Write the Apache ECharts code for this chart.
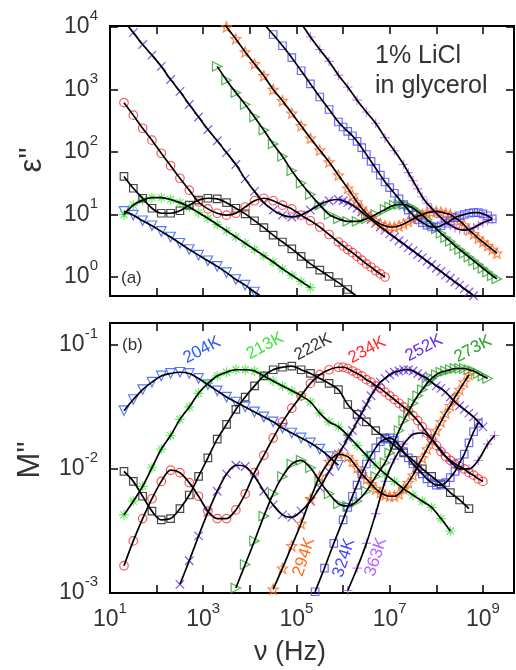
<!DOCTYPE html>
<html><head><meta charset="utf-8">
<script src="https://cdn.jsdelivr.net/npm/echarts@6/dist/echarts.min.js"></script>
<style>html,body{margin:0;padding:0;background:#fff}#c{width:516px;height:670px}</style>
</head><body><div id="c"></div>
<script>
// ---- data: log10(frequency / Hz) and log10 of the measured quantity ----
// panel (a): epsilon''
const nuE204 = [1.3,1.5,1.7,1.9,2.1,2.3,2.5,2.7,2.9,3.1,3.3,3.5,3.7,3.9,4.1,4.3];
const lgE204 = [1.05,0.99,0.9,0.82,0.73,0.64,0.54,0.44,0.35,0.26,0.17,0.07,-0.04,-0.13,-0.24,-0.34];
const nuE213 = [1.3,1.5,1.7,1.9,2.1,2.3,2.5,2.7,2.9,3.1,3.3,3.5,3.7,3.9,4.1,4.3,4.5,4.7,4.9,5.1,5.3];
const lgE213 = [1.0,1.15,1.23,1.27,1.27,1.24,1.19,1.12,1.03,0.94,0.84,0.74,0.64,0.54,0.44,0.34,0.24,0.13,0.03,-0.07,-0.17];
const nuE222 = [1.3,1.5,1.7,1.9,2.1,2.3,2.5,2.7,2.9,3.1,3.3,3.5,3.7,3.9,4.1,4.3,4.5,4.7,4.9,5.1,5.3,5.5,5.7,5.9,6.1,6.3];
const lgE222 = [1.61,1.42,1.26,1.1,1.02,1.02,1.06,1.15,1.23,1.26,1.25,1.19,1.1,1.01,0.9,0.79,0.67,0.56,0.45,0.33,0.21,0.11,0.01,-0.09,-0.2,-0.31];
const nuE234 = [1.3,1.5,1.7,1.9,2.1,2.3,2.5,2.7,2.9,3.1,3.3,3.5,3.7,3.9,4.1,4.3,4.5,4.7,4.9,5.1,5.3,5.5,5.7,5.9,6.0,6.1,6.2,6.3,6.4,6.5,6.6,6.7,6.8,6.9];
const lgE234 = [2.79,2.59,2.38,2.19,1.98,1.78,1.58,1.39,1.2,1.09,1.02,0.99,1.02,1.12,1.22,1.26,1.22,1.15,1.09,0.99,0.9,0.8,0.68,0.56,0.5,0.44,0.39,0.33,0.27,0.21,0.16,0.1,0.05,0.0];
const nuE252 = [1.3,1.5,1.7,1.9,2.1,2.3,2.5,2.7,2.9,3.1,3.3,3.5,3.7,3.9,4.1,4.3,4.5,4.7,4.9,5.1,5.3,5.5,5.7,5.9,6.0,6.1,6.2,6.3,6.4,6.5,6.6,6.7,6.8,6.9,7.0,7.1,7.2,7.3,7.4,7.5,7.6,7.7,7.8,7.9,8.0,8.1,8.2,8.3,8.4,8.5,8.6,8.7,8.8,8.9];
const lgE252 = [4.1,3.91,3.72,3.55,3.37,3.16,2.97,2.76,2.56,2.36,2.18,1.99,1.8,1.57,1.37,1.19,1.07,0.99,0.96,0.99,1.07,1.16,1.22,1.24,1.22,1.19,1.15,1.1,1.04,0.98,0.92,0.86,0.8,0.75,0.69,0.64,0.58,0.53,0.47,0.42,0.36,0.31,0.25,0.2,0.14,0.09,0.03,-0.02,-0.08,-0.13,-0.19,-0.24,-0.3,-0.35];
const nuE273 = [3.3,3.5,3.7,3.9,4.1,4.3,4.5,4.7,4.9,5.1,5.3,5.5,5.7,5.9,6.1,6.3,6.5,6.7,6.9,7.0,7.1,7.2,7.3,7.4,7.5,7.6,7.7,7.8,7.9,8.0,8.1,8.2,8.3,8.4,8.5,8.6,8.7,8.8,8.9,9.0,9.1,9.2,9.3];
const lgE273 = [3.37,3.15,2.95,2.76,2.56,2.35,2.13,1.93,1.7,1.5,1.32,1.15,1.0,0.93,0.89,0.89,0.93,1.0,1.08,1.12,1.15,1.16,1.16,1.14,1.1,1.05,0.99,0.92,0.85,0.77,0.7,0.63,0.57,0.5,0.44,0.38,0.32,0.26,0.2,0.14,0.08,0.02,-0.03];
const nuE294 = [3.3,3.5,3.7,3.9,4.1,4.3,4.5,4.7,4.9,5.1,5.3,5.5,5.7,5.9,6.1,6.2,6.3,6.4,6.5,6.6,6.7,6.8,6.9,7.0,7.1,7.2,7.3,7.4,7.5,7.6,7.7,7.8,7.9,8.0,8.1,8.2,8.3,8.4,8.5,8.6,8.7,8.8,8.9,9.0,9.1,9.2,9.3];
const lgE294 = [4.2,4.0,3.81,3.6,3.41,3.22,3.0,2.82,2.62,2.42,2.22,2.03,1.84,1.63,1.42,1.31,1.2,1.1,1.02,0.95,0.89,0.85,0.82,0.8,0.8,0.82,0.85,0.89,0.93,0.97,1.0,1.03,1.04,1.05,1.04,1.02,1.0,0.95,0.9,0.83,0.75,0.69,0.62,0.56,0.5,0.44,0.38];
const nuE324 = [4.1,4.3,4.5,4.7,4.9,5.1,5.3,5.5,5.7,5.9,6.0,6.1,6.2,6.3,6.4,6.5,6.6,6.7,6.8,6.9,7.0,7.1,7.2,7.3,7.4,7.5,7.6,7.7,7.8,7.9,8.0,8.1,8.2,8.3,8.4,8.5,8.6,8.7,8.8,8.9,9.0,9.1,9.2];
const lgE324 = [4.22,4.05,3.88,3.7,3.51,3.3,3.09,2.88,2.68,2.48,2.4,2.33,2.26,2.17,2.07,1.96,1.85,1.74,1.63,1.52,1.43,1.34,1.25,1.16,1.07,0.99,0.92,0.87,0.83,0.8,0.8,0.82,0.86,0.9,0.95,0.98,1.0,1.02,1.03,1.03,1.01,0.98,0.93];
const nuE363 = [4.9,5.1,5.3,5.5,5.7,5.9,6.1,6.3,6.5,6.7,6.9,7.1,7.3,7.4,7.5,7.6,7.7,7.8,7.9,8.0,8.1,8.2,8.3,8.4,8.5,8.6,8.7,8.8,8.9,9.0,9.1,9.2];
const lgE363 = [4.27,4.06,3.84,3.64,3.45,3.23,3.04,2.83,2.64,2.46,2.23,2.02,1.8,1.67,1.54,1.41,1.28,1.18,1.1,1.02,0.95,0.88,0.83,0.79,0.76,0.75,0.76,0.79,0.83,0.87,0.9,0.92];

// panel (b): M''
const nuM204 = [1.3,1.5,1.7,1.9,2.1,2.3,2.5,2.7,2.9,3.1,3.3,3.5,3.7,3.9,4.1,4.3,4.5,4.7,4.9,5.1,5.3,5.5,5.7,5.9];
const lgM204 = [-1.53,-1.44,-1.36,-1.3,-1.25,-1.23,-1.22,-1.23,-1.27,-1.32,-1.37,-1.42,-1.46,-1.5,-1.54,-1.58,-1.62,-1.67,-1.71,-1.75,-1.79,-1.84,-1.9,-1.97];
const nuM213 = [1.3,1.5,1.7,1.9,2.1,2.3,2.5,2.7,2.9,3.1,3.3,3.5,3.7,3.9,4.1,4.3,4.5,4.7,4.9,5.1,5.3,5.5,5.7,5.9,6.1,6.3,6.5,6.7,6.9,7.1,7.3,7.5,7.7,7.9,8.1,8.3];
const lgM213 = [-2.37,-2.26,-2.14,-1.99,-1.84,-1.73,-1.6,-1.5,-1.39,-1.31,-1.25,-1.22,-1.2,-1.2,-1.21,-1.25,-1.29,-1.33,-1.37,-1.41,-1.46,-1.55,-1.62,-1.66,-1.73,-1.81,-1.89,-1.97,-2.04,-2.1,-2.16,-2.21,-2.26,-2.31,-2.4,-2.5];
const nuM222 = [1.3,1.5,1.7,1.9,2.1,2.3,2.5,2.7,2.9,3.1,3.3,3.5,3.7,3.9,4.1,4.3,4.5,4.7,4.9,5.1,5.3,5.5,5.7,5.9,6.1,6.3,6.5,6.7,6.9,7.1,7.3,7.5,7.7,7.9,8.1,8.3,8.5,8.7];
const lgM222 = [-2.02,-2.1,-2.22,-2.34,-2.41,-2.4,-2.32,-2.21,-2.06,-1.91,-1.76,-1.64,-1.52,-1.42,-1.33,-1.25,-1.2,-1.18,-1.17,-1.2,-1.23,-1.27,-1.31,-1.36,-1.48,-1.56,-1.62,-1.69,-1.75,-1.81,-1.87,-1.93,-2.0,-2.06,-2.12,-2.19,-2.25,-2.32];
const nuM234 = [1.3,1.5,1.7,1.9,2.1,2.3,2.5,2.7,2.9,3.1,3.3,3.5,3.7,3.9,4.1,4.3,4.5,4.7,4.9,5.1,5.3,5.5,5.7,5.9,6.0,6.1,6.2,6.3,6.4,6.5,6.6,6.7,6.8,6.9,7.0,7.1,7.2,7.3,7.4,7.5,7.6,7.7,7.8,7.9,8.0,8.1,8.2,8.3,8.4,8.5,8.6,8.7,8.8,8.9,9.0];
const lgM234 = [-2.78,-2.58,-2.4,-2.24,-2.1,-2.01,-2.03,-2.11,-2.22,-2.34,-2.4,-2.4,-2.33,-2.2,-2.03,-1.89,-1.75,-1.62,-1.51,-1.41,-1.31,-1.24,-1.2,-1.18,-1.18,-1.19,-1.21,-1.23,-1.25,-1.28,-1.3,-1.33,-1.35,-1.38,-1.41,-1.44,-1.47,-1.5,-1.53,-1.57,-1.61,-1.66,-1.71,-1.76,-1.81,-1.86,-1.9,-1.93,-1.96,-1.98,-2.0,-2.03,-2.05,-2.08,-2.1];
const nuM252 = [2.5,2.7,2.9,3.1,3.3,3.5,3.7,3.9,4.1,4.3,4.5,4.7,4.9,5.1,5.3,5.5,5.7,5.9,6.0,6.1,6.2,6.3,6.4,6.5,6.6,6.7,6.8,6.9,7.0,7.1,7.2,7.3,7.4,7.5,7.6,7.7,7.8,7.9,8.0,8.1,8.2,8.3,8.4,8.5,8.6,8.7,8.8,8.9,9.0];
const lgM252 = [-2.93,-2.74,-2.54,-2.35,-2.18,-2.04,-1.97,-1.98,-2.06,-2.18,-2.29,-2.37,-2.39,-2.34,-2.26,-2.15,-2.02,-1.88,-1.82,-1.75,-1.69,-1.62,-1.55,-1.48,-1.41,-1.35,-1.3,-1.27,-1.24,-1.22,-1.21,-1.2,-1.2,-1.21,-1.23,-1.25,-1.27,-1.3,-1.33,-1.35,-1.38,-1.42,-1.46,-1.49,-1.52,-1.55,-1.58,-1.62,-1.66];
const nuM273 = [3.7,3.9,4.1,4.3,4.5,4.7,4.9,5.1,5.3,5.5,5.7,5.9,6.1,6.3,6.5,6.7,6.9,7.0,7.1,7.2,7.3,7.4,7.5,7.6,7.7,7.8,7.9,8.0,8.1,8.2,8.3,8.4,8.5,8.6,8.7,8.8,8.9,9.0,9.1];
const lgM273 = [-2.96,-2.77,-2.58,-2.38,-2.2,-2.06,-1.96,-1.93,-1.99,-2.1,-2.2,-2.28,-2.3,-2.26,-2.18,-2.06,-1.95,-1.87,-1.78,-1.69,-1.61,-1.54,-1.47,-1.41,-1.36,-1.31,-1.27,-1.24,-1.22,-1.21,-1.2,-1.19,-1.19,-1.19,-1.2,-1.21,-1.23,-1.25,-1.27];
const nuM294 = [4.5,4.7,4.9,5.1,5.3,5.5,5.7,5.9,6.1,6.2,6.3,6.4,6.5,6.6,6.7,6.8,6.9,7.0,7.1,7.2,7.3,7.4,7.5,7.6,7.7,7.8,7.9,8.0,8.1,8.2,8.3,8.4,8.5,8.6,8.7];
const lgM294 = [-2.97,-2.8,-2.62,-2.44,-2.24,-2.06,-1.94,-1.88,-1.9,-1.94,-1.99,-2.04,-2.08,-2.12,-2.16,-2.19,-2.21,-2.22,-2.22,-2.2,-2.16,-2.11,-2.05,-1.98,-1.91,-1.84,-1.77,-1.69,-1.62,-1.55,-1.49,-1.42,-1.36,-1.3,-1.24];
const nuM324 = [5.4,5.6,5.8,6.0,6.1,6.2,6.3,6.4,6.5,6.6,6.7,6.8,6.9,7.0,7.1,7.2,7.3,7.4,7.5,7.6,7.7,7.8,7.9,8.0,8.1,8.2,8.3,8.4,8.5,8.6,8.7,8.8,8.9];
const lgM324 = [-2.99,-2.8,-2.6,-2.41,-2.31,-2.22,-2.13,-2.04,-1.96,-1.89,-1.83,-1.78,-1.76,-1.75,-1.77,-1.81,-1.86,-1.91,-1.96,-2.0,-2.04,-2.08,-2.11,-2.13,-2.13,-2.11,-2.07,-2.02,-1.95,-1.88,-1.79,-1.7,-1.63];
const nuM363 = [6.1,6.3,6.5,6.7,6.9,7.1,7.3,7.5,7.7,7.9,8.1,8.3,8.5,8.7,8.9,9.1,9.25];
const lgM363 = [-2.98,-2.8,-2.6,-2.36,-2.1,-1.92,-1.8,-1.72,-1.71,-1.76,-1.85,-1.94,-2.0,-2.0,-1.93,-1.8,-1.73];

const temperatures = ['204K','213K','222K','234K','252K','273K','294K','324K','363K'];

// ---- styling ----
const FONT = '"Liberation Sans", Arial, Helvetica, sans-serif';
const TXT = '#333';
const P = {
  star: 'path://M5 0L6.29 3.22L9.76 3.46L7.09 5.68L7.94 9.05L5 7.2L2.06 9.05L2.91 5.68L0.24 3.46L3.71 3.22Z',
  aster: 'path://M5 0L5 10M0 5L10 5M1.5 1.5L8.5 8.5M8.5 1.5L1.5 8.5',
  cross: 'path://M0 0L10 10M10 0L0 10',
  plus: 'path://M5 0L5 10M0 5L10 5'
};
const styles = {
  '204K': {c:'#2c58ff', sym:'triangle', rot:180, size:9.5},
  '213K': {c:'#3fe83a', sym:P.aster, rot:0, size:10},
  '222K': {c:'#1a1a1a', sym:'rect', rot:0, size:7.5},
  '234K': {c:'#ff2a2a', sym:'circle', rot:0, size:8.5},
  '252K': {c:'#6a2cf0', sym:P.cross, rot:0, size:8.5},
  '273K': {c:'#26a626', sym:'triangle', rot:-90, size:9.5},
  '294K': {c:'#ff6a1c', sym:P.star, rot:0, size:10},
  '324K': {c:'#4646ff', sym:'rect', rot:0, size:7.5},
  '363K': {c:'#b266ff', sym:P.plus, rot:0, size:9.5}
};
const dataE = {'204K':[nuE204,lgE204],'213K':[nuE213,lgE213],'222K':[nuE222,lgE222],'234K':[nuE234,lgE234],'252K':[nuE252,lgE252],'273K':[nuE273,lgE273],'294K':[nuE294,lgE294],'324K':[nuE324,lgE324],'363K':[nuE363,lgE363]};
const dataM = {'204K':[nuM204,lgM204],'213K':[nuM213,lgM213],'222K':[nuM222,lgM222],'234K':[nuM234,lgM234],'252K':[nuM252,lgM252],'273K':[nuM273,lgM273],'294K':[nuM294,lgM294],'324K':[nuM324,lgM324],'363K':[nuM363,lgM363]};

function toPts(nu, lg) { return nu.map((x, i) => [Math.pow(10, x), Math.pow(10, lg[i])]); }

function expFmt(v, onlyOdd) {
  const l = Math.log10(v), e = Math.round(l);
  if (Math.abs(l - e) > 1e-6) return '';
  if (onlyOdd && Math.abs(e % 2) !== 1) return '';
  return '{b|10}{e|' + e + '}';
}
const rich = {
  b: {fontSize: 23, fontFamily: FONT, color: TXT, lineHeight: 30, verticalAlign: 'bottom'},
  e: {fontSize: 15, fontFamily: FONT, color: TXT, lineHeight: 15, verticalAlign: 'top'}
};
const tick = {show: true, inside: true, length: 8, lineStyle: {color: '#000', width: 1.5}};
function xAx(grid, pos, labels) {
  return {type: 'log', logBase: 10, gridIndex: grid, position: pos, min: 10, max: 4.64e9,
    axisLine: {show: false}, splitLine: {show: false}, minorTick: {show: false}, axisTick: tick,
    axisLabel: labels ? {show: true, margin: 8, formatter: v => expFmt(v, true), rich: rich, showMinLabel: true, showMaxLabel: false}
                      : {show: false}};
}
function yAx(grid, pos, min, max, labels) {
  return {type: 'log', logBase: 10, gridIndex: grid, position: pos, min: min, max: max,
    axisLine: {show: false}, splitLine: {show: false}, minorTick: {show: false}, axisTick: tick,
    axisLabel: labels ? {show: true, margin: 12, formatter: v => expFmt(v, false), rich: rich, padding: [0, 0, 7, 0]}
                      : {show: false}};
}

const series = [];
[[dataE, 0], [dataM, 1]].forEach(([dset, g]) => {
  temperatures.forEach(t => {
    const s = styles[t];
    series.push({type: 'scatter', xAxisIndex: g * 2, yAxisIndex: g * 2, clip: true,
      data: toPts(dset[t][0], dset[t][1]), symbol: s.sym, symbolRotate: s.rot, symbolSize: s.size,
      itemStyle: {color: 'rgba(0,0,0,0)', borderColor: s.c, borderWidth: 1.2}, z: 2, silent: true});
  });
});
[[dataE, 0], [dataM, 1]].forEach(([dset, g]) => {
  temperatures.forEach(t => {
    series.push({type: 'line', xAxisIndex: g * 2, yAxisIndex: g * 2, clip: true, smooth: 0.3,
      showSymbol: false, data: toPts(dset[t][0], dset[t][1]),
      lineStyle: {color: '#000', width: 1.7}, z: 3, silent: true});
  });
});

const tLabels = [
  ['204K', 202, 350, 28], ['213K', 265, 346, 28], ['222K', 313, 347, 28],
  ['234K', 367, 350, 28], ['252K', 424, 348, 28], ['273K', 473, 349, 28],
  ['294K', 304, 557, 72], ['324K', 344, 558, 72], ['363K', 376, 557, 72]
];
const graphic = tLabels.map(([t, x, y, deg]) => ({
  type: 'text', x: x, y: y, rotation: deg * Math.PI / 180, z: 10,
  style: {text: t, fill: t === '222K' ? '#333' : styles[t].c, font: '17px ' + FONT, align: 'center', verticalAlign: 'middle'}
}));
graphic.push(
  {type: 'text', x: 375, y: 56, z: 10, style: {text: '1% LiCl', fill: TXT, font: '25px ' + FONT, align: 'left', verticalAlign: 'middle'}},
  {type: 'text', x: 375, y: 86, z: 10, style: {text: 'in glycerol', fill: TXT, font: '25px ' + FONT, align: 'left', verticalAlign: 'middle'}},
  {type: 'text', x: 121, y: 278, z: 10, style: {text: '(a)', fill: TXT, font: '17px ' + FONT, align: 'left', verticalAlign: 'middle'}},
  {type: 'text', x: 122, y: 345, z: 10, style: {text: '(b)', fill: TXT, font: '17px ' + FONT, align: 'left', verticalAlign: 'middle'}},
  {type: 'text', x: 32, y: 160, rotation: Math.PI / 2, z: 10, style: {text: 'ε"', fill: TXT, font: '31px ' + FONT, align: 'center', verticalAlign: 'middle'}},
  {type: 'text', x: 30, y: 460, rotation: Math.PI / 2, z: 10, style: {text: 'M"', fill: TXT, font: '31px ' + FONT, align: 'center', verticalAlign: 'middle'}},
  {type: 'text', x: 290, y: 653, z: 10, style: {text: 'ν (Hz)', fill: TXT, font: '27px ' + FONT, align: 'center', verticalAlign: 'middle'}}
);

const chart = echarts.init(document.getElementById('c'), null, {renderer: 'canvas'});
chart.setOption({
  animation: false,
  backgroundColor: '#fff',
  grid: [
    {left: 110, top: 26, width: 404, height: 270, show: true, borderColor: '#000', borderWidth: 2, backgroundColor: 'rgba(0,0,0,0)'},
    {left: 110, top: 323, width: 404, height: 270, show: true, borderColor: '#000', borderWidth: 2, backgroundColor: 'rgba(0,0,0,0)'}
  ],
  xAxis: [xAx(0, 'bottom', false), xAx(0, 'top', false), xAx(1, 'bottom', true), xAx(1, 'top', false)],
  yAxis: [yAx(0, 'left', 0.497, 10380, true), yAx(0, 'right', 0.497, 10380, false),
          yAx(1, 'left', 0.001, 0.1503, true), yAx(1, 'right', 0.001, 0.1503, false)],
  series: series,
  graphic: graphic
});
</script>
</body></html>
